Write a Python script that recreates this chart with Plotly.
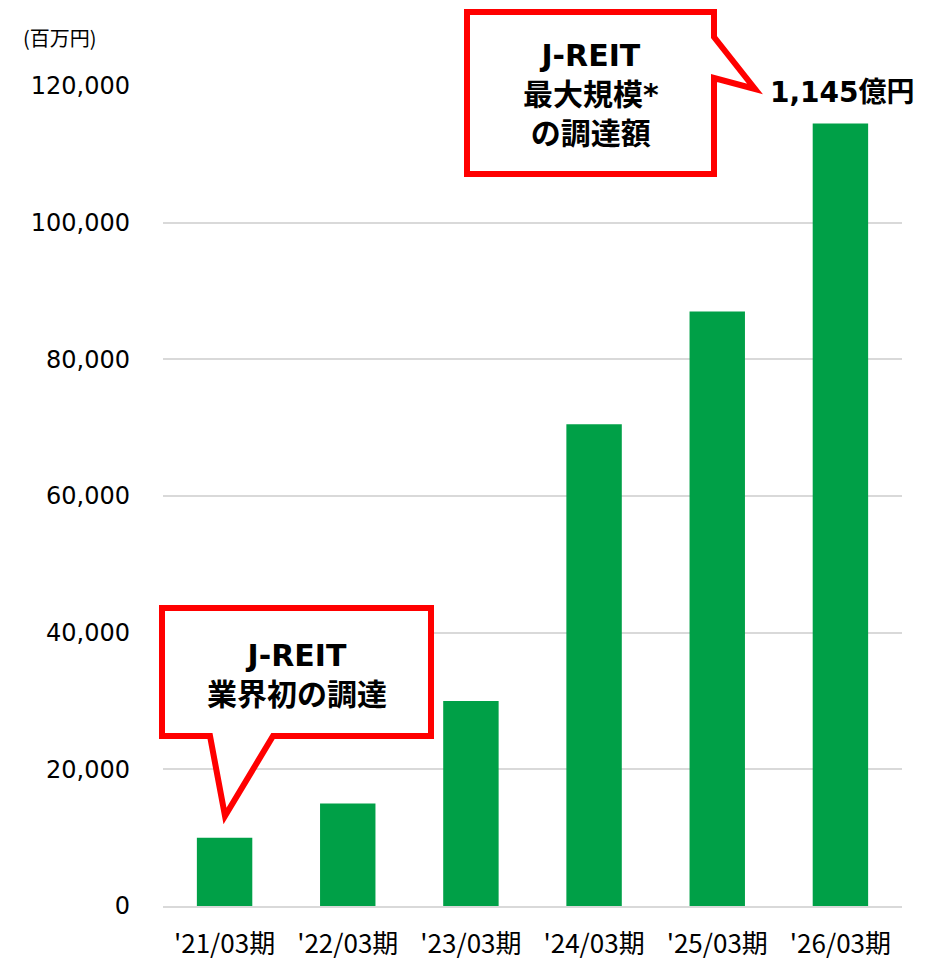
import plotly.graph_objects as go

# Données
periods = ["'21/03期", "'22/03期", "'23/03期", "'24/03期", "'25/03期", "'26/03期"]
amounts = [10000, 15000, 30000, 70500, 87000, 114500]  # 百万円
y_ticks = [0, 20000, 40000, 60000, 80000, 100000, 120000]

GREEN = "#00A047"
RED = "#FF0000"
GRID = "#D9D9D9"
TEXT = "#000000"

# la page ajoute une marge de 8 px autour du graphique
OFF = 8
W, H = 939 - OFF, 959 - OFF
# zone de tracé en pixels (coordonnées de l'image de référence)
PL, PR, PT, PB = 163, 902, 86, 906


def px(x):
    return (x - PL) / (PR - PL)


def py(y):
    return (PB - y) / (PB - PT)


def path(points):
    return "M " + " L ".join(f"{px(x):.5f},{py(y):.5f}" for x, y in points) + " Z"


fig = go.Figure(
    go.Bar(
        x=periods,
        y=amounts,
        marker_color=GREEN,
        marker_line_width=0,
        width=0.45,
    )
)

# bulles
callout_top = [(467, 12), (714, 12), (714, 37), (755, 89), (714, 78), (714, 174), (467, 174)]
callout_low = [(162, 608), (431, 608), (431, 736), (273, 736), (225, 816), (210, 736), (162, 736)]
shapes = [
    dict(type="path", xref="paper", yref="paper", path=path(p),
         fillcolor="white", line=dict(color=RED, width=6), layer="above")
    for p in (callout_top, callout_low)
]

bold = "DejaVu Sans, Noto Sans CJK JP"
annotations = [
    dict(x=px(591), y=py(94), text="<b>J-REIT<br>最大規模*<br>の調達額</b>",
         font=dict(family=bold, size=30, color=TEXT)),
    dict(x=px(297), y=py(675), text="<b>J-REIT<br>業界初の調達</b>",
         font=dict(family=bold, size=30, color=TEXT)),
    dict(x=px(842), y=py(92), text="<b>1,145億円</b>",
         font=dict(family=bold, size=28, color=TEXT)),
    dict(x=px(60), y=py(38), text="(百万円)",
         font=dict(family="Noto Sans CJK JP", size=20, color=TEXT)),
]
for a in annotations:
    a.update(xref="paper", yref="paper", showarrow=False, xanchor="center", yanchor="middle",
             align="center")

fig.update_layout(
    width=W,
    height=H,
    plot_bgcolor="white",
    paper_bgcolor="white",
    margin=dict(l=PL - OFF, r=W - (PR - OFF), t=PT - OFF, b=H - (PB - OFF), autoexpand=False),
    showlegend=False,
    shapes=shapes,
    annotations=annotations,
    font=dict(family="DejaVu Sans, Noto Sans CJK JP", color=TEXT),
)

fig.update_xaxes(
    showgrid=False,
    showline=True,
    linecolor=GRID,
    linewidth=2,
    ticks="",
    tickfont=dict(family="Noto Sans CJK JP", size=26, color=TEXT),
    ticklabelstandoff=14,
)
fig.update_yaxes(
    range=[0, 120000],
    tickvals=y_ticks,
    ticktext=[f"{v:,}" for v in y_ticks],
    showgrid=True,
    gridcolor=GRID,
    gridwidth=2,
    zeroline=False,
    showline=False,
    ticks="",
    tickfont=dict(family="DejaVu Sans", size=24, color=TEXT),
    ticklabelstandoff=32,
)

fig.write_html("out.html")
